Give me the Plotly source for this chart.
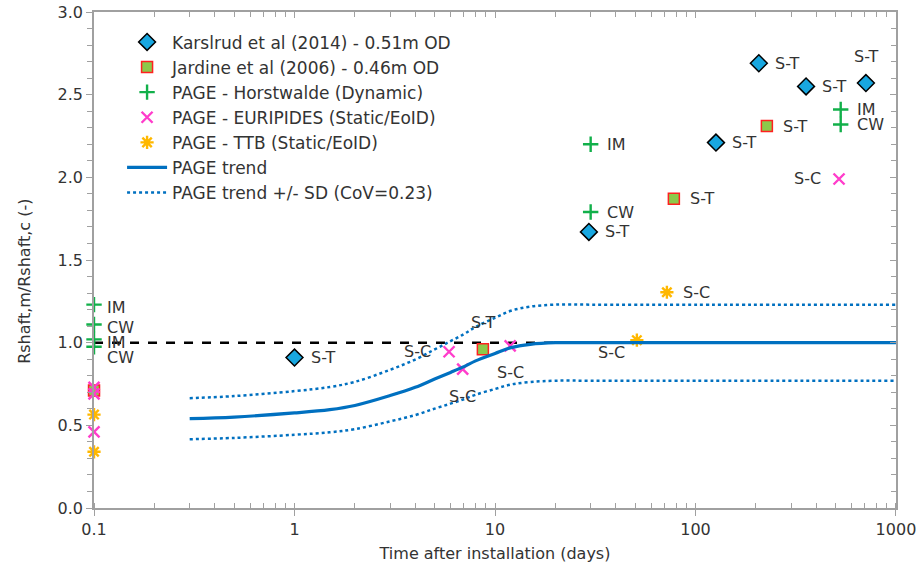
import math
import plotly.graph_objects as go

# ---------------- data ----------------
kars_x = [1.0, 29.4, 126.5, 207, 356, 708]
kars_y = [0.91, 1.67, 2.21, 2.69, 2.55, 2.57]
kars_lbl = ["S-T", "S-T", "S-T", "S-T", "S-T", "S-T"]
kars_pos = ["r", "r", "r", "r", "r", "t"]

jard_x = [0.1, 8.7, 78, 227]
jard_y = [0.71, 0.96, 1.87, 2.31]
jard_lbl = ["", "S-T", "S-T", "S-T"]
jard_pos = ["r", "t", "r", "r"]

hors_x = [0.1, 0.1, 0.1, 0.1, 30, 30, 530, 530]
hors_y = [1.23, 1.11, 1.02, 0.975, 2.20, 1.79, 2.41, 2.32]
hors_lbl = ["IM", "CW", "IM", "CW", "IM", "CW", "IM", "CW"]
hors_pos = ["r0", "r0", "r0", "rb", "r", "r", "r", "r"]

euri_x = [0.1, 0.1, 0.1, 5.9, 6.9, 11.9, 520]
euri_y = [0.73, 0.69, 0.46, 0.945, 0.84, 0.98, 1.99]
euri_lbl = ["", "", "", "S-C", "S-C", "S-C", "S-C"]
euri_pos = ["r", "r", "r", "l", "b", "b", "l"]

ttb_x = [0.1, 0.1, 51, 72]
ttb_y = [0.565, 0.34, 1.015, 1.305]
ttb_lbl = ["", "", "S-C", "S-C"]
ttb_pos = ["r", "r", "bl", "r"]

trend_x = [0.3, 0.5, 1, 1.5, 2, 3, 4, 5, 6, 7, 8, 10, 12, 15, 20, 30, 50, 100, 1000]
trend_y = [0.54, 0.55, 0.575, 0.595, 0.62, 0.68, 0.73, 0.78, 0.82, 0.855, 0.89,
           0.935, 0.97, 0.99, 1.0, 1.0, 1.0, 1.0, 1.0]
upper_y = [0.664, 0.677, 0.707, 0.732, 0.763, 0.836, 0.898, 0.959, 1.009, 1.052,
           1.095, 1.150, 1.193, 1.218, 1.23, 1.23, 1.23, 1.23, 1.23]
lower_y = [0.416, 0.424, 0.443, 0.458, 0.477, 0.524, 0.562, 0.601, 0.631, 0.658,
           0.685, 0.720, 0.747, 0.762, 0.77, 0.77, 0.77, 0.77, 0.77]

ref_x = [0.1, 22]
ref_y = [1.0, 1.0]

x_ticks = [0.1, 1, 10, 100, 1000]
x_ticklabels = ["0.1", "1", "10", "100", "1000"]
y_ticks = [0.0, 0.5, 1.0, 1.5, 2.0, 2.5, 3.0]

FONT = "DejaVu Sans"
TXT = "#333333"
BLUE = "#0070C0"
AXC = "#A0A0A0"
XR = [-1.0001, 3.0001]

fig = go.Figure()

fig.add_trace(go.Scatter(x=ref_x, y=ref_y, mode="lines", showlegend=False,
                         line=dict(color="black", width=2.5, dash="dash"), hoverinfo="skip"))

fig.add_trace(go.Scatter(x=kars_x, y=kars_y, mode="markers", cliponaxis=False,
                         name="Karslrud et al (2014) - 0.51m OD",
                         marker=dict(symbol="diamond", size=13, color="#18A7E0",
                                     line=dict(color="black", width=1.5))))
fig.add_trace(go.Scatter(x=jard_x, y=jard_y, mode="markers", cliponaxis=False,
                         name="Jardine et al (2006) - 0.46m OD",
                         marker=dict(symbol="square", size=11, color="#8DC94A",
                                     line=dict(color="#FF2020", width=1.5))))
fig.add_trace(go.Scatter(x=hors_x, y=hors_y, mode="markers", cliponaxis=False,
                         name="PAGE - Horstwalde (Dynamic)",
                         marker=dict(symbol="cross-thin", size=11,
                                     line=dict(color="#12B04A", width=2.4))))
fig.add_trace(go.Scatter(x=euri_x, y=euri_y, mode="markers", cliponaxis=False,
                         name="PAGE - EURIPIDES (Static/EoID)",
                         marker=dict(symbol="x-thin", size=11,
                                     line=dict(color="#FF3DCB", width=2.4))))
fig.add_trace(go.Scatter(x=ttb_x, y=ttb_y, mode="markers", cliponaxis=False,
                         name="PAGE - TTB (Static/EoID)",
                         marker=dict(symbol="asterisk", size=11,
                                     line=dict(color="#FFB800", width=2.4))))
fig.add_trace(go.Scatter(x=trend_x, y=trend_y, mode="lines", name="PAGE trend",
                         line=dict(color=BLUE, width=3.2, shape="spline")))
fig.add_trace(go.Scatter(x=trend_x, y=upper_y, mode="lines",
                         name="PAGE trend +/- SD (CoV=0.23)", legendgroup="sd",
                         line=dict(color=BLUE, width=2.5, dash="dot", shape="spline")))
fig.add_trace(go.Scatter(x=trend_x, y=lower_y, mode="lines", showlegend=False,
                         legendgroup="sd",
                         line=dict(color=BLUE, width=2.5, dash="dot", shape="spline")))

fig.add_trace(go.Scatter(x=[None], y=[None], xaxis="x2", yaxis="y2",
                         showlegend=False, hoverinfo="skip"))

SHIFTS = {
    "r": (14, 0, "left"),
    "r0": (11, -3, "left"),
    "rb": (11, -11, "left"),
    "l": (-16, 0, "right"),
    "t": (0, 27, "center"),
    "b": (0, -27, "center"),
    "bl": (-25, -12, "center"),
}
for xs, ys, lbls, poss in [(kars_x, kars_y, kars_lbl, kars_pos),
                           (jard_x, jard_y, jard_lbl, jard_pos),
                           (hors_x, hors_y, hors_lbl, hors_pos),
                           (euri_x, euri_y, euri_lbl, euri_pos),
                           (ttb_x, ttb_y, ttb_lbl, ttb_pos)]:
    for xv, yv, t, p in zip(xs, ys, lbls, poss):
        if not t:
            continue
        dx, dy, anc = SHIFTS[p]
        fig.add_annotation(x=math.log10(xv), y=yv, text=t, showarrow=False,
                           xshift=dx, yshift=dy, xanchor=anc, yanchor="middle",
                           font=dict(family=FONT, size=16, color=TXT))

# y-axis title (placed as annotation to match position)
fig.add_annotation(xref="paper", yref="paper", x=-0.086, y=0.456,
                   text="Rshaft,m/Rshaft,c (-)", textangle=-90, showarrow=False,
                   xanchor="center", yanchor="middle",
                   font=dict(family=FONT, size=16, color=TXT))

axis_common = dict(showgrid=False, zeroline=False, linecolor=AXC, linewidth=1.5,
                   automargin=False)

fig.update_layout(
    width=916, height=575,
    margin=dict(l=94, r=20, t=12, b=67),
    paper_bgcolor="white", plot_bgcolor="white",
    font=dict(family=FONT, size=16, color=TXT),
    xaxis=dict(type="log", range=XR, tickvals=x_ticks, ticktext=x_ticklabels,
               ticks="outside", ticklen=6, tickcolor=AXC, tickwidth=1.2,
               ticklabeloverflow="allow",
               minor=dict(ticks="inside", ticklen=5, tickcolor=AXC, dtick="D1"),
               title=dict(text="Time after installation (days)",
                          font=dict(family=FONT, size=16, color=TXT), standoff=10),
               tickfont=dict(family=FONT, size=16, color=TXT), **axis_common),
    yaxis=dict(range=[0, 3], tickvals=y_ticks, tickformat=".1f",
               ticks="outside", ticklen=6, tickcolor=AXC, tickwidth=1.2,
               ticklabeloverflow="allow",
               minor=dict(ticks="outside", ticklen=5, tickcolor=AXC, dtick=0.1),
               tickfont=dict(family=FONT, size=16, color=TXT), **axis_common),
    xaxis2=dict(type="log", range=XR, overlaying="x", side="top",
                tickvals=x_ticks, showticklabels=False,
                ticks="inside", ticklen=6, tickcolor=AXC,
                minor=dict(ticks="inside", ticklen=5, tickcolor=AXC, dtick="D1"),
                **axis_common),
    yaxis2=dict(range=[0, 3], overlaying="y", side="right",
                tickvals=y_ticks, showticklabels=False,
                ticks="inside", ticklen=6, tickcolor=AXC,
                minor=dict(ticks="inside", ticklen=5, tickcolor=AXC, dtick=0.1),
                **axis_common),
    legend=dict(x=0.035, y=0.975, xanchor="left", yanchor="top",
                bgcolor="rgba(0,0,0,0)", font=dict(family=FONT, size=17, color=TXT),
                itemwidth=40, tracegroupgap=0),
    showlegend=True,
)

fig.write_html("out.html", config={"displayModeBar": False},
               post_script="document.body.style.margin='0px';"
                           "document.body.style.overflow='hidden';")
